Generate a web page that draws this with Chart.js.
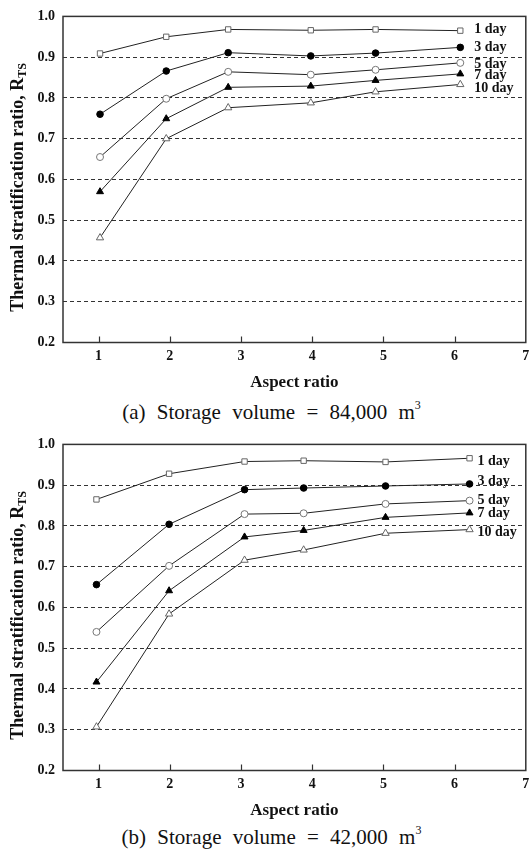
<!DOCTYPE html>
<html>
<head>
<meta charset="utf-8">
<title>Thermal stratification ratio vs aspect ratio</title>
<script src="https://cdn.jsdelivr.net/npm/chart.js@4.4.1/dist/chart.umd.min.js"></script>
<style>
  body { margin: 0; background: #fff; }
  .page { position: relative; width: 531px; height: 856px; overflow: hidden; }
  .page canvas { position: absolute; left: 0; }
  #chartA { top: 0; }
  #chartB { top: 428px; }
  .caption {
    position: absolute; left: 0; width: 543px; text-align: center;
    font: 21px 'Liberation Serif', 'Times New Roman', serif; line-height: 21px;
    word-spacing: 6px; color: #111; white-space: nowrap;
  }
  .caption sup { font-size: 12px; vertical-align: baseline; position: relative; top: -10px; }
  #capA { top: 402px; }
  #capB { top: 827px; }
</style>
</head>
<body>
<div class="page">
  <canvas id="chartA" width="531" height="395"></canvas>
  <div class="caption" id="capA">(a) Storage volume = 84,000 m<sup>3</sup></div>
  <canvas id="chartB" width="531" height="395"></canvas>
  <div class="caption" id="capB">(b) Storage volume = 42,000 m<sup>3</sup></div>
</div>

<script>
// ── Data ───────────────────────────────────────────
const aspectTicks = [1, 2, 3, 4, 5, 6, 7];
const rtsTicks    = [0.2, 0.3, 0.4, 0.5, 0.6, 0.7, 0.8, 0.9, 1.0];
const seriesNames = ['1 day', '3 day', '5 day', '7 day', '10 day'];

// (a) 84,000 m3
const aspectA = [1.02, 1.95, 2.82, 3.98, 4.89, 6.08];
const day1A   = [0.909, 0.950, 0.968, 0.966, 0.968, 0.965];
const day3A   = [0.760, 0.866, 0.911, 0.903, 0.910, 0.924];
const day5A   = [0.655, 0.798, 0.864, 0.857, 0.869, 0.886];
const day7A   = [0.570, 0.749, 0.826, 0.829, 0.843, 0.859];
const day10A  = [0.457, 0.700, 0.776, 0.788, 0.815, 0.833];

// (b) 42,000 m3
const aspectB = [0.97, 1.99, 3.05, 3.88, 5.03, 6.21];
const day1B   = [0.865, 0.928, 0.958, 0.960, 0.957, 0.966];
const day3B   = [0.656, 0.804, 0.889, 0.893, 0.898, 0.903];
const day5B   = [0.540, 0.702, 0.829, 0.831, 0.854, 0.862];
const day7B   = [0.417, 0.641, 0.773, 0.789, 0.821, 0.832];
const day10B  = [0.307, 0.584, 0.716, 0.741, 0.782, 0.791];

// ── Styles ─────────────────────────────────────────
const SERIF = "'Liberation Serif', 'Times New Roman', serif";
const INK = '#111';
const markers = [
  { style: 'rect',     fill: '#fff', stroke: '#666', r: 3.8 },
  { style: 'circle',   fill: '#000', stroke: '#000', r: 3.3 },
  { style: 'circle',   fill: '#fff', stroke: '#777', r: 3.5 },
  { style: 'triangle', fill: '#000', stroke: '#000', r: 4.0 },
  { style: 'triangle', fill: '#fff', stroke: '#666', r: 4.2 }
];

// frame, inner x ticks, y title and the day labels at the line ends
const figureDecor = {
  id: 'figureDecor',
  afterDraw(chart, args, opts) {
    const { ctx, chartArea: a } = chart;
    const xs = chart.scales.x;
    ctx.save();

    ctx.strokeStyle = '#333';
    ctx.lineWidth = 1.5;
    ctx.strokeRect(a.left, a.top, a.right - a.left, a.bottom - a.top);

    ctx.lineWidth = 1.2;
    aspectTicks.slice(0, -1).forEach(v => {
      const px = Math.round(xs.getPixelForValue(v)) + 0.5;
      ctx.beginPath();
      ctx.moveTo(px, a.bottom);
      ctx.lineTo(px, a.bottom - 6);
      ctx.stroke();
    });

    // y axis title with subscript
    ctx.fillStyle = INK;
    ctx.translate(18.5, (a.top + a.bottom) / 2 + 8);
    ctx.rotate(-Math.PI / 2);
    ctx.textBaseline = 'middle';
    ctx.textAlign = 'left';
    const main = 'Thermal stratification ratio, R';
    const sub = 'TS';
    ctx.font = `bold 18px ${SERIF}`;
    const w1 = ctx.measureText(main).width;
    ctx.font = `bold 12px ${SERIF}`;
    const w2 = ctx.measureText(sub).width;
    const x0 = -(w1 + w2) / 2;
    ctx.font = `bold 18px ${SERIF}`;
    ctx.fillText(main, x0, 0);
    ctx.font = `bold 12px ${SERIF}`;
    ctx.fillText(sub, x0 + w1, 4);
    ctx.restore();

    ctx.save();
    ctx.fillStyle = INK;
    ctx.font = `bold 14px ${SERIF}`;
    ctx.textBaseline = 'middle';
    ctx.textAlign = 'left';
    chart.data.datasets.forEach((ds, i) => {
      const pts = chart.getDatasetMeta(i).data;
      const last = pts[pts.length - 1];
      ctx.fillText(ds.label, last.x + opts.dx, last.y + opts.nudge[i]);
    });
    ctx.restore();
  }
};

function buildSets(xs, series) {
  return series.map((ys, i) => {
    const m = markers[i];
    return {
      label: seriesNames[i],
      data: xs.map((x, j) => ({ x, y: ys[j] })),
      showLine: true,
      borderColor: '#222',
      borderWidth: 1,
      pointStyle: m.style,
      pointRadius: m.r,
      pointBorderWidth: 1,
      pointBackgroundColor: m.fill,
      pointBorderColor: m.stroke
    };
  });
}

function renderChart(id, xs, series, labelDx, labelNudge) {
  new Chart(document.getElementById(id), {
    type: 'scatter',
    data: { datasets: buildSets(xs, series) },
    options: {
      responsive: false,
      animation: false,
      layout: { padding: { top: 14, right: 1, left: 0, bottom: 0 } },
      plugins: {
        legend: { display: false },
        tooltip: { enabled: false },
        figureDecor: { dx: labelDx, nudge: labelNudge }
      },
      scales: {
        x: {
          type: 'linear', min: 0.5, max: 7,
          afterBuildTicks: s => { s.ticks = aspectTicks.map(v => ({ value: v })); },
          afterFit: s => { s.height = 52.5; s.paddingLeft = 0; s.paddingRight = 0; },
          grid: { display: false, drawTicks: false },
          border: { display: false },
          ticks: { padding: 5, color: INK, font: { family: SERIF, size: 14, weight: 'bold' } },
          title: {
            display: true, text: 'Aspect ratio', color: INK,
            padding: { top: 0, bottom: 2 },
            font: { family: SERIF, size: 17, weight: 'bold' }
          }
        },
        y: {
          type: 'linear', min: 0.2, max: 1.0,
          afterBuildTicks: s => { s.ticks = rtsTicks.map(v => ({ value: v })); },
          afterFit: s => { s.width = 63; },
          grid: {
            drawTicks: false,
            lineWidth: 1,
            color: c => (c.tick && (c.tick.value <= 0.2 || c.tick.value >= 1.0)) ? 'rgba(0,0,0,0)' : '#333'
          },
          border: { display: false, dash: [4, 3] },
          ticks: {
            padding: 8, color: INK,
            font: { family: SERIF, size: 14, weight: 'bold' },
            callback: v => v.toFixed(1)
          }
        }
      }
    },
    plugins: [figureDecor]
  });
}

renderChart('chartA', aspectA, [day1A, day3A, day5A, day7A, day10A], 14, [-1, 0, 2, 2, 4]);
renderChart('chartB', aspectB, [day1B, day3B, day5B, day7B, day10B], 8, [3, -3, 0, 1, 3]);
</script>
</body>
</html>
